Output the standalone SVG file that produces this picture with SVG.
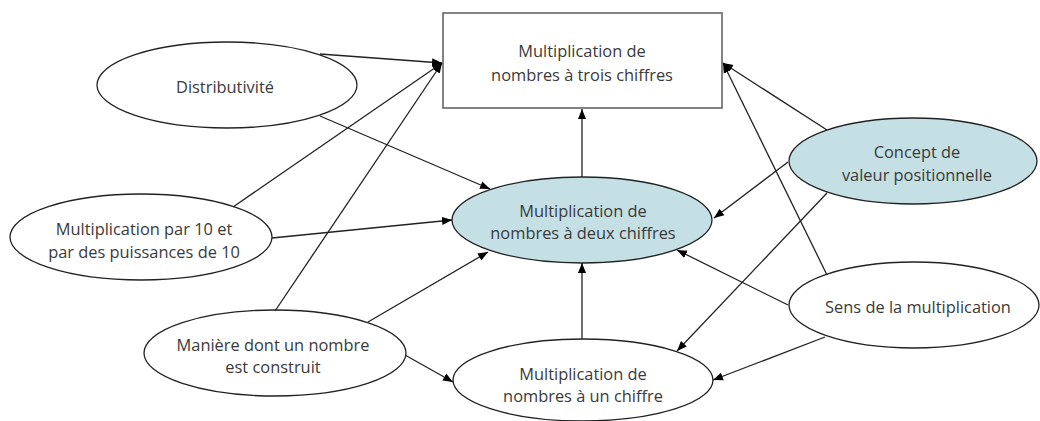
<svg xmlns="http://www.w3.org/2000/svg" width="1040" height="421" viewBox="0 0 1040 421">
<style>
.t{font-family:"Open Sans","Liberation Sans",sans-serif;font-size:16.4px;fill:#3a3a3a;text-anchor:middle}
.e{fill:#fff;stroke:#222;stroke-width:1.3}
.b{fill:#c4e0e5;stroke:#222;stroke-width:1.3}
.c line{stroke:#222;stroke-width:1.3}
.c line.a{marker-end:url(#ah)}
</style>
<defs>
<marker id="ah" markerUnits="userSpaceOnUse" markerWidth="10" markerHeight="10" viewBox="0 0 10 10" refX="10" refY="5" orient="auto">
<path d="M0,1 L10,5 L0,9 Z" fill="#000"/>
</marker>
</defs>
<rect width="1040" height="421" fill="#fff"/>
<g id="n-trois">
<rect x="443" y="13" width="279" height="95" fill="#fff" stroke="#666" stroke-width="1.6"/>
<text class="t" x="582" y="57">Multiplication de</text>
<text class="t" x="582" y="81">nombres à trois chiffres</text>
</g>
<g id="n-distrib">
<ellipse class="e" cx="227" cy="85" rx="130" ry="43"/>
<text class="t" x="225" y="93">Distributivité</text>
</g>
<g id="n-par10">
<ellipse class="e" cx="141" cy="237" rx="131" ry="43"/>
<text class="t" x="144" y="235">Multiplication par 10 et</text>
<text class="t" x="144" y="258">par des puissances de 10</text>
</g>
<g id="n-maniere">
<ellipse class="e" cx="275" cy="353" rx="131" ry="43"/>
<text class="t" x="273" y="351">Manière dont un nombre</text>
<text class="t" x="273" y="373">est construit</text>
</g>
<g id="n-deux">
<ellipse class="b" cx="582" cy="220" rx="130" ry="43"/>
<text class="t" x="583" y="217">Multiplication de</text>
<text class="t" x="583" y="239">nombres à deux chiffres</text>
</g>
<g id="n-un">
<ellipse class="e" cx="583" cy="380" rx="130" ry="41"/>
<text class="t" x="583" y="380">Multiplication de</text>
<text class="t" x="583" y="402">nombres à un chiffre</text>
</g>
<g id="n-concept">
<ellipse class="b" cx="913" cy="161" rx="124" ry="43"/>
<text class="t" x="917" y="158">Concept de</text>
<text class="t" x="917" y="181">valeur positionnelle</text>
</g>
<g id="n-sens">
<ellipse class="e" cx="914" cy="305" rx="125" ry="43"/>
<text class="t" x="918" y="313">Sens de la multiplication</text>
</g>
<g id="connectors" class="c">
<line class="a" x1="320" y1="54" x2="442" y2="63"/>
<line class="a" x1="320" y1="116" x2="490" y2="189"/>
<line class="a" x1="233" y1="207" x2="442" y2="63"/>
<line class="a" x1="272" y1="238" x2="452" y2="220"/>
<line class="a" x1="275" y1="311" x2="442" y2="63"/>
<line class="a" x1="368" y1="322" x2="488" y2="252"/>
<line class="a" x1="405" y1="355" x2="453" y2="382"/>
<line class="a" x1="582" y1="339" x2="582" y2="263"/>
<line class="a" x1="582" y1="177" x2="582" y2="109"/>
<line class="a" x1="788" y1="162" x2="714" y2="218"/>
<line class="a" x1="827" y1="130" x2="723" y2="63"/>
<line class="a" x1="827" y1="193" x2="677" y2="351"/>
<line class="a" x1="827" y1="275" x2="723" y2="63"/>
<line class="a" x1="788" y1="305" x2="677" y2="250"/>
<line class="a" x1="825" y1="337" x2="713" y2="380"/>
</g>
</svg>
